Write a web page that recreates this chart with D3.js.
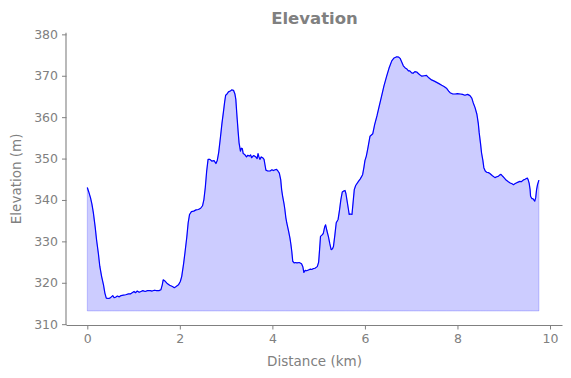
<!DOCTYPE html>
<html><head><meta charset="utf-8">
<script src="https://cdn.jsdelivr.net/npm/d3@7"></script>
<style>
html,body{margin:0;padding:0;background:#fff;}
text{font-family:"DejaVu Sans",sans-serif;}
</style></head>
<body>
<svg id="chart" width="571" height="378"></svg>
<script>
const distanceKm = [0.00,0.03,0.07,0.10,0.13,0.17,0.20,0.24,0.27,0.31,0.35,0.38,0.41,0.45,0.49,0.52,0.55,0.58,0.61,0.65,0.69,0.73,0.78,0.83,0.89,0.93,0.97,1.01,1.04,1.08,1.12,1.16,1.20,1.25,1.30,1.36,1.40,1.45,1.50,1.55,1.59,1.62,1.64,1.68,1.72,1.78,1.84,1.88,1.92,1.97,2.01,2.04,2.08,2.11,2.15,2.18,2.21,2.25,2.30,2.35,2.40,2.45,2.49,2.52,2.55,2.58,2.61,2.65,2.69,2.74,2.78,2.81,2.84,2.88,2.91,2.94,2.97,2.99,3.02,3.05,3.09,3.12,3.16,3.19,3.21,3.23,3.24,3.26,3.28,3.31,3.33,3.35,3.37,3.40,3.44,3.47,3.50,3.53,3.55,3.59,3.62,3.65,3.67,3.69,3.71,3.73,3.76,3.79,3.82,3.84,3.86,3.90,3.95,3.99,4.02,4.06,4.09,4.12,4.15,4.18,4.20,4.22,4.25,4.27,4.29,4.31,4.35,4.38,4.40,4.42,4.44,4.47,4.50,4.53,4.58,4.63,4.66,4.68,4.71,4.74,4.78,4.82,4.85,4.88,4.92,4.97,5.00,5.02,5.04,5.07,5.10,5.13,5.15,5.18,5.21,5.24,5.27,5.30,5.32,5.35,5.38,5.42,5.45,5.48,5.51,5.55,5.57,5.59,5.61,5.64,5.66,5.69,5.72,5.75,5.77,5.80,5.86,5.90,5.95,5.98,6.00,6.03,6.06,6.11,6.14,6.17,6.21,6.26,6.31,6.36,6.41,6.47,6.52,6.58,6.63,6.69,6.73,6.76,6.80,6.83,6.87,6.90,6.94,6.97,7.01,7.04,7.08,7.12,7.16,7.20,7.23,7.28,7.33,7.38,7.44,7.50,7.55,7.60,7.66,7.71,7.77,7.81,7.84,7.90,7.95,8.00,8.06,8.11,8.16,8.22,8.27,8.31,8.34,8.38,8.42,8.45,8.47,8.50,8.52,8.55,8.57,8.60,8.63,8.67,8.70,8.75,8.81,8.85,8.88,8.91,8.94,8.97,8.99,9.02,9.05,9.10,9.14,9.18,9.21,9.24,9.27,9.31,9.35,9.38,9.42,9.46,9.51,9.53,9.55,9.57,9.58,9.61,9.63,9.65,9.67,9.69,9.71,9.73,9.76];
const elevationM = [343.0,342.0,340.5,339.0,337.0,333.5,330.4,327.0,324.0,321.5,319.5,317.5,316.3,316.2,316.3,316.6,316.9,316.4,316.5,316.8,316.6,316.9,317.0,317.1,317.3,317.3,317.6,317.9,317.6,318.0,317.7,317.9,318.1,317.9,318.1,318.1,318.0,318.2,318.1,318.1,318.3,319.5,320.7,320.4,319.9,319.4,319.1,318.8,319.1,319.5,320.3,321.5,324.5,327.2,331.0,334.5,336.5,337.2,337.3,337.6,337.7,338.0,338.6,340.1,343.0,347.0,349.8,349.8,349.4,349.5,348.8,349.6,351.5,355.4,358.5,361.1,363.8,365.3,365.6,366.1,366.3,366.6,366.5,365.6,364.3,361.0,359.5,356.5,353.8,351.8,352.5,352.4,351.2,351.0,350.4,350.8,350.6,350.9,350.2,350.7,350.6,350.3,350.0,351.2,350.4,349.8,350.4,350.2,349.8,348.5,347.2,347.0,347.0,347.3,347.1,347.3,347.4,347.0,346.5,344.9,342.5,341.0,339.2,337.7,335.8,334.5,332.5,330.8,329.3,327.5,325.2,324.8,324.9,324.8,324.9,324.6,323.8,322.5,323.0,322.9,323.1,323.3,323.2,323.4,323.5,323.9,325.0,328.0,331.2,331.5,331.9,333.5,334.0,332.5,331.2,329.5,328.0,328.2,328.8,331.5,334.5,335.3,337.5,340.1,341.9,342.2,342.3,341.5,340.1,338.0,336.5,336.6,336.5,340.1,342.5,343.5,344.5,345.1,346.1,348.0,349.5,350.6,352.3,355.4,355.7,356.0,358.2,360.3,362.7,365.1,367.5,369.9,371.8,373.6,374.3,374.6,374.5,374.2,373.2,372.4,371.9,371.7,371.2,371.2,370.7,370.6,371.0,370.9,370.5,370.1,369.9,370.0,370.1,369.5,369.0,368.7,368.4,368.1,367.7,367.4,366.9,366.3,365.9,365.6,365.6,365.7,365.6,365.5,365.3,365.5,365.2,364.6,363.5,362.3,360.7,358.5,356.2,353.5,351.4,349.5,347.8,347.0,346.7,346.6,346.4,345.9,345.4,345.6,345.7,346.0,346.2,345.8,345.6,345.2,344.8,344.4,344.1,343.9,343.7,343.9,344.1,344.3,344.5,344.4,344.8,345.0,345.3,344.8,344.0,342.5,340.9,340.3,340.3,340.0,339.7,340.5,342.5,343.7,344.8];
const xTicks = [0, 2, 4, 6, 8, 10];
const yTicks = [310, 320, 330, 340, 350, 360, 370, 380];
const titleText = "Elevation";
const xLabel = "Distance (km)";
const yLabel = "Elevation (m)";

const points = distanceKm.map((d, i) => ({x: d, y: elevationM[i]}));
const baseline = d3.min(elevationM) - 3;

const svg = d3.select("#chart");
const grey = "#808080";
const plotLeft = 66.5, plotRight = 562.5, plotTop = 32.7, plotBottom = 325;

const x = d3.scaleLinear().domain([-0.4495, 10.27]).range([plotLeft, plotRight]);
const y = d3.scaleLinear().domain([309.8, 380.4]).range([plotBottom, plotTop]);

// fill
const area = d3.area().x(d => x(d.x)).y0(y(baseline)).y1(d => y(d.y));
svg.append("path").datum(points)
  .attr("d", area)
  .attr("fill", "rgba(0,0,255,0.2)")
  .attr("stroke", "rgba(0,0,255,0.2)")
  .attr("stroke-width", 1);

// line
const line = d3.line().x(d => x(d.x)).y(d => y(d.y));
svg.append("path").datum(points)
  .attr("d", line)
  .attr("fill", "none")
  .attr("stroke", "#0000ff")
  .attr("stroke-width", 1.2)
  .attr("stroke-linejoin", "round");

// axes
const xAxis = svg.append("g").attr("transform", `translate(0,${plotBottom})`)
  .call(d3.axisBottom(x).tickValues(xTicks).tickFormat(d3.format("d")).tickSize(4.5).tickPadding(5));
const yAxis = svg.append("g").attr("transform", `translate(${plotLeft},0)`)
  .call(d3.axisLeft(y).tickValues(yTicks).tickFormat(d3.format("d")).tickSize(4.5).tickPadding(4));

[xAxis, yAxis].forEach(g => {
  g.select(".domain").attr("stroke", grey).attr("stroke-width", 1.1);
  g.selectAll(".tick line").attr("stroke", grey).attr("stroke-width", 1);
  g.selectAll(".tick text").attr("fill", grey).style("font-size", "12.5px")
    .style("font-family", "'DejaVu Sans', sans-serif");
});
xAxis.select(".domain").attr("d", `M${plotLeft},0.5H${plotRight}`);
yAxis.select(".domain").attr("d", `M-0.5,${plotTop}V${plotBottom}`);

// title and labels
svg.append("text").attr("x", (plotLeft + plotRight) / 2).attr("y", 24)
  .attr("text-anchor", "middle").attr("fill", grey)
  .style("font-size", "16.5px").style("font-weight", "bold").text(titleText);
svg.append("text").attr("x", (plotLeft + plotRight) / 2).attr("y", 366)
  .attr("text-anchor", "middle").attr("fill", grey)
  .style("font-size", "13.5px").text(xLabel);
svg.append("text").attr("transform", `translate(21,${(plotTop + plotBottom) / 2}) rotate(-90)`)
  .attr("text-anchor", "middle").attr("fill", grey)
  .style("font-size", "13.5px").text(yLabel);
</script>
</body></html>
